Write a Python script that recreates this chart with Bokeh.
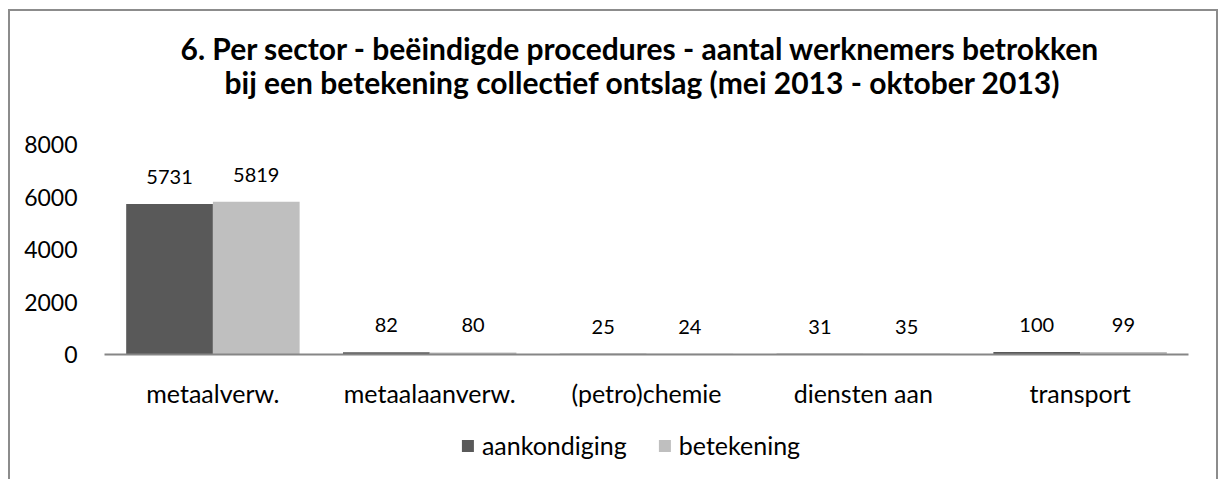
from bokeh.plotting import figure
from bokeh.layouts import column
from bokeh.models import ColumnDataSource, Range1d, FixedTicker, LabelSet, Title
from bokeh.core.properties import value
from bokeh.transform import dodge
from bokeh.embed import file_html
from bokeh.resources import INLINE

categories = ["metaalverw.", "metaalaanverw.", "(petro)chemie", "diensten aan", "transport"]
aankondiging = [5731, 82, 25, 31, 100]
betekening = [5819, 80, 24, 35, 99]
y_ticks = [0, 2000, 4000, 6000, 8000]
series_names = ["aankondiging", "betekening"]
title_lines = [
    "6. Per sector - beëindigde procedures - aantal werknemers betrokken",
    "bij een betekening collectief ontslag (mei 2013 - oktober 2013)",
]

FONT = "Lato"
DARK = "#595959"
LIGHT = "#bfbfbf"
series_colors = [DARK, LIGHT]

src = ColumnDataSource(dict(
    cat=categories,
    a=aankondiging,
    b=betekening,
    a_txt=[str(v) for v in aankondiging],
    b_txt=[str(v) for v in betekening],
))

p = figure(
    x_range=categories,
    y_range=Range1d(0, 8000),
    frame_width=1084, frame_height=210,
    output_backend="svg", toolbar_location=None, title=None,
    min_border_left=94, min_border_right=28, min_border_top=133, min_border_bottom=64,
)

p.vbar(x=dodge("cat", -0.2, range=p.x_range), top="a", width=0.4, source=src,
       fill_color=series_colors[0], line_color=None)
p.vbar(x=dodge("cat", 0.2, range=p.x_range), top="b", width=0.4, source=src,
       fill_color=series_colors[1], line_color=None)

for col, off in (("a_txt", -0.2), ("b_txt", 0.2)):
    ycol = "a" if col == "a_txt" else "b"
    p.add_layout(LabelSet(x=dodge("cat", off, range=p.x_range), y=ycol, text=col, source=src,
                          y_offset=27, text_align="center", text_baseline="middle",
                          text_font=value(FONT), text_font_size="20px", text_color="black"))

spacer = Title(text=" ", text_font_size="1px", standoff=42)
t2 = Title(text=title_lines[1], align="left", offset=120,
           text_font=FONT, text_font_size="30px", text_font_style="bold",
           text_color="black", standoff=0)
t1 = Title(text=title_lines[0], align="left", offset=76,
           text_font=FONT, text_font_size="30px", text_font_style="bold",
           text_color="black", standoff=-9)
p.add_layout(spacer, "above")
p.add_layout(t2, "above")
p.add_layout(t1, "above")

p.xgrid.grid_line_color = None
p.ygrid.grid_line_color = None
p.outline_line_color = None

p.yaxis.ticker = FixedTicker(ticks=y_ticks)
p.yaxis.axis_line_color = None
p.yaxis.major_tick_line_color = None
p.yaxis.minor_tick_line_color = None
p.yaxis.major_label_standoff = 21
p.yaxis.major_label_text_font = FONT
p.yaxis.major_label_text_font_size = "23px"
p.yaxis.major_label_text_color = "black"

p.xaxis.axis_line_color = "#868686"
p.xaxis.axis_line_width = 2
p.xaxis.major_tick_line_color = None
p.xaxis.minor_tick_line_color = None
p.xaxis.major_label_standoff = 17
p.xaxis.major_label_text_font = FONT
p.xaxis.major_label_text_font_size = "25px"
p.xaxis.major_label_text_color = "black"

# legend strip below the chart (zero-height proxy bars carry the legend swatches)
pl = figure(width=1206, height=54, x_range=Range1d(0, 1), y_range=Range1d(0, 1),
            output_backend="svg", toolbar_location=None, title=None,
            min_border_left=0, min_border_right=60, min_border_top=0, min_border_bottom=0)
pl.axis.visible = False
pl.xgrid.grid_line_color = None
pl.ygrid.grid_line_color = None
pl.outline_line_color = None
for name, color in zip(series_names, series_colors):
    pl.vbar(x=[0.5], top=[0], bottom=[0], width=0.01, fill_color=color, line_color=None,
            legend_label=name)
leg = pl.legend[0]
leg.orientation = "horizontal"
leg.location = "center"
leg.border_line_color = None
leg.background_fill_alpha = 0
leg.glyph_width = 15
leg.glyph_height = 15
leg.label_standoff = 7
leg.spacing = 30
leg.label_text_font = FONT
leg.label_text_font_size = "25px"
leg.label_text_color = "black"
leg.margin = 0
leg.padding = 0

layout = column(p, pl, spacing=0)
layout.styles = {"border-top": "2px solid #8c8c8c", "border-left": "2px solid #8c8c8c",
                 "border-right": "2px solid #8c8c8c", "padding-bottom": "7px",
                 "margin-left": "8px", "margin-top": "9px"}

open("out.html", "w").write(file_html(layout, INLINE))
